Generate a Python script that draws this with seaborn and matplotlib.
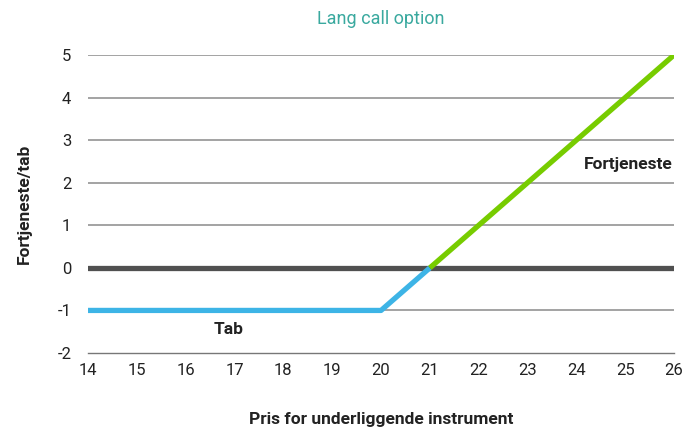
import seaborn as sns
import matplotlib.pyplot as plt
import pandas as pd

# data
tab_pris = [14, 20, 21]
tab_vaerdi = [-1, -1, 0]
gevinst_pris = [21, 26]
gevinst_vaerdi = [0, 5]
x_ticks = list(range(14, 27))
y_ticks = list(range(-2, 6))

tab_df = pd.DataFrame({"pris": tab_pris, "vaerdi": tab_vaerdi})
gevinst_df = pd.DataFrame({"pris": gevinst_pris, "vaerdi": gevinst_vaerdi})

sns.set_style("white")
plt.rcParams["font.family"] = ["Roboto", "DejaVu Sans"]
plt.rcParams["axes.unicode_minus"] = False

fig = plt.figure(figsize=(6.85, 4.28), dpi=100)
ax = fig.add_axes([0.1285, 0.1752, 0.8555, 0.6963])

# gridlinjer
for y in y_ticks[1:]:
    if y == 0:
        continue
    ax.axhline(y, color="#8a8a8a", lw=1.1, zorder=1)
ax.axhline(0, color="#505050", lw=3.8, zorder=2)

sns.lineplot(data=tab_df, x="pris", y="vaerdi", color="#3db4e6", lw=3.8,
             ax=ax, zorder=3, solid_capstyle="butt")
sns.lineplot(data=gevinst_df, x="pris", y="vaerdi", color="#77cc00", lw=3.8,
             ax=ax, zorder=4, solid_capstyle="butt")

ax.set_xlim(14, 26)
ax.set_ylim(-2, 5)
ax.set_xticks(x_ticks)
ax.set_yticks(y_ticks)
ax.tick_params(axis="x", direction="in", length=8, width=1, color="#777777",
               labelsize=12, labelcolor="#222222", pad=7)
ax.tick_params(axis="y", length=0, labelsize=12, labelcolor="#222222", pad=12)

for s in ["top", "right", "left"]:
    ax.spines[s].set_visible(False)
ax.spines["bottom"].set_color("#777777")
ax.spines["bottom"].set_linewidth(1)

ax.set_xlabel("Pris for underliggende instrument", fontsize=12.5,
              fontweight="bold", color="#222222", labelpad=25)
ax.set_ylabel("Fortjeneste/tab", fontsize=12.5, fontweight="bold",
              color="#222222", labelpad=18)
ax.set_title("Lang call option", color="#3aa99f", fontsize=13, pad=22)

ax.text(25.07, 2.42, "Fortjeneste", ha="center", va="center", fontsize=12.5,
        fontweight="bold", color="#222222")
ax.text(16.87, -1.45, "Tab", ha="center", va="center", fontsize=12.5,
        fontweight="bold", color="#222222")

fig.savefig("out.png", dpi=100)
